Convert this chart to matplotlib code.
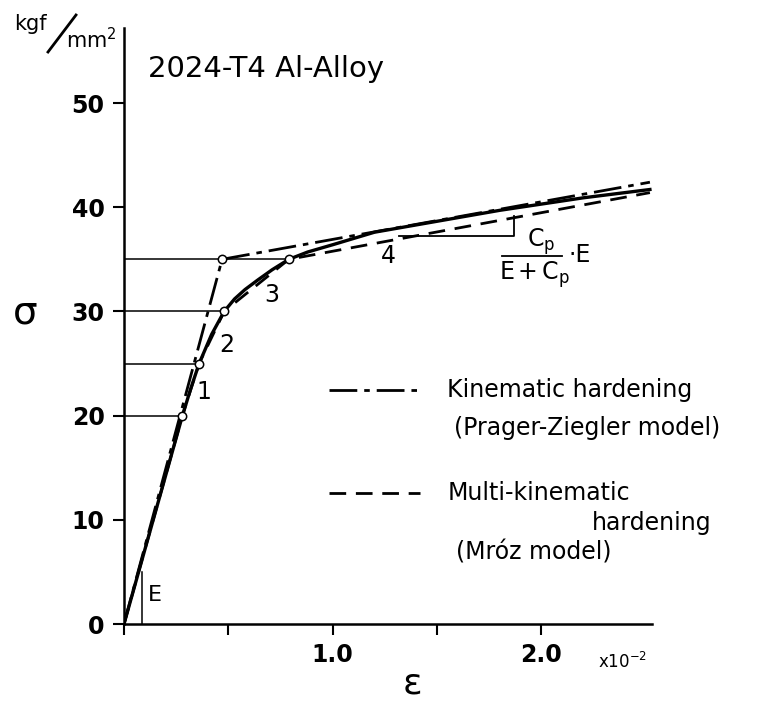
import matplotlib
matplotlib.use("Agg")
import matplotlib.pyplot as plt
from matplotlib.lines import Line2D

plt.rcParams['font.family'] = ['DejaVu Sans']
plt.rcParams['mathtext.fontset'] = 'dejavusans'

# Experimental stress-strain curve (strain in 1e-2, stress in kgf/mm^2)
exp_strain = [0.0, 0.28, 0.32, 0.36, 0.42, 0.48, 0.53, 0.58, 0.64, 0.71,
              0.79, 0.88, 1.00, 1.20, 1.40, 1.60, 1.80, 2.00, 2.20, 2.40, 2.52]
exp_stress = [0.0, 20.0, 22.6, 25.0, 27.8, 30.0, 31.2, 32.1, 33.0, 34.0,
              35.0, 35.7, 36.4, 37.6, 38.3, 39.0, 39.7, 40.3, 40.9, 41.4, 41.7]

# Prager-Ziegler (bilinear kinematic hardening)
pz_strain = [0.0, 0.47, 2.52]
pz_stress = [0.0, 35.0, 42.4]

# Mroz (multi-linear kinematic hardening)
mroz_strain = [0.0, 0.28, 0.36, 0.48, 0.79, 2.52]
mroz_stress = [0.0, 20.0, 25.0, 30.0, 35.0, 41.4]

# Yield surfaces used to fit the Mroz model
knot_strain = [0.28, 0.36, 0.48, 0.47, 0.79]
knot_stress = [20.0, 25.0, 30.0, 35.0, 35.0]
level_stress = [20.0, 25.0, 30.0, 35.0]
level_end = [0.28, 0.36, 0.48, 0.79]

segment_labels = ['1', '2', '3', '4']
segment_label_x = [0.385, 0.49, 0.71, 1.265]
segment_label_y = [22.3, 26.8, 31.6, 35.3]

y_ticks = [0, 10, 20, 30, 40, 50]
x_ticks = [0.0, 0.5, 1.0, 1.5, 2.0]
x_tick_labels = ['', '', '1.0', '', '2.0']

fig = plt.figure(figsize=(7.66, 7.05), dpi=100)
ax = fig.add_axes([124 / 766, 81 / 705, 528 / 766, 596 / 705])
ax.set_xlim(0, 2.53)
ax.set_ylim(0, 57.2)

for s in ['top', 'right']:
    ax.spines[s].set_visible(False)
for s in ['left', 'bottom']:
    ax.spines[s].set_linewidth(1.8)

ax.set_yticks(y_ticks)
ax.set_yticklabels([str(v) for v in y_ticks], fontsize=17, fontweight='bold')
ax.set_xticks(x_ticks)
ax.set_xticklabels(x_tick_labels, fontsize=17, fontweight='bold')
ax.tick_params(axis='both', direction='out', length=8, width=1.5, pad=6)

# horizontal guide lines at the fitted stress levels
for lv, xe in zip(level_stress, level_end):
    ax.plot([0, xe], [lv, lv], color='black', lw=1.1, solid_capstyle='butt')

ax.plot(exp_strain, exp_stress, color='black', lw=2.4, solid_joinstyle='round')
ax.plot(pz_strain, pz_stress, color='black', lw=2.0, dashes=(10, 2.5, 2, 2.5))
ax.plot(mroz_strain, mroz_stress, color='black', lw=2.0, dashes=(6, 3.5))
ax.plot(knot_strain, knot_stress, 'o', ms=6, mfc='white', mec='black', mew=1.1)

for t, x, y in zip(segment_labels, segment_label_x, segment_label_y):
    ax.text(x, y, t, fontsize=17, ha='center', va='center')

# tangent-modulus triangle and its slope label
ax.plot([1.32, 1.87, 1.87], [37.2, 37.2, 39.2], color='black', lw=1.3)
ax.text(2.0, 36.7, r'C$_{\mathrm{p}}$', fontsize=17, ha='center', va='center')
ax.plot([1.81, 2.10], [35.3, 35.3], color='black', lw=1.3)
ax.text(1.965, 33.5, r'E$\,$+$\,$C$_{\mathrm{p}}$', fontsize=17, ha='center', va='center')
ax.text(2.13, 35.4, '·E', fontsize=17, ha='left', va='center')

# elastic modulus marker
ax.plot([0.085, 0.085], [0, 5.0], color='black', lw=1.1)
ax.text(0.115, 2.8, 'E', fontsize=16, ha='left', va='center')

ax.text(0.115, 53.3, '2024-T4 Al-Alloy', fontsize=21, ha='left', va='center')

# legend drawn in data space
ax.plot([0.98, 1.42], [22.5, 22.5], color='black', lw=2.0, dashes=(10, 2.5, 2, 2.5))
ax.text(1.55, 22.5, 'Kinematic hardening', fontsize=17, ha='left', va='center')
ax.text(1.58, 18.8, '(Prager-Ziegler model)', fontsize=17, ha='left', va='center')
ax.plot([0.98, 1.42], [12.6, 12.6], color='black', lw=2.0, dashes=(6, 3.5))
ax.text(1.55, 12.6, 'Multi-kinematic', fontsize=17, ha='left', va='center')
ax.text(2.24, 9.7, 'hardening', fontsize=17, ha='left', va='center')
ax.text(1.59, 6.9, '(Mróz model)', fontsize=17, ha='left', va='center')

# axis titles and unit
fig.text(25 / 766, 1 - 312 / 705, 'σ', fontsize=28, ha='center', va='center')
fig.text(412 / 766, 1 - 684 / 705, 'ε', fontsize=26, ha='center', va='center')
fig.text(598 / 766, 1 - 662 / 705, r'x$10^{-2}$', fontsize=12, ha='left', va='center')
fig.text(14 / 766, 1 - 24 / 705, 'kgf', fontsize=15, ha='left', va='center')
fig.add_artist(Line2D([48 / 766, 76 / 766], [1 - 52 / 705, 1 - 15 / 705],
                      color='black', lw=2.0, transform=fig.transFigure))
fig.text(66 / 766, 1 - 40 / 705, r'mm$^2$', fontsize=15, ha='left', va='center')

fig.savefig('out.png', dpi=100)
